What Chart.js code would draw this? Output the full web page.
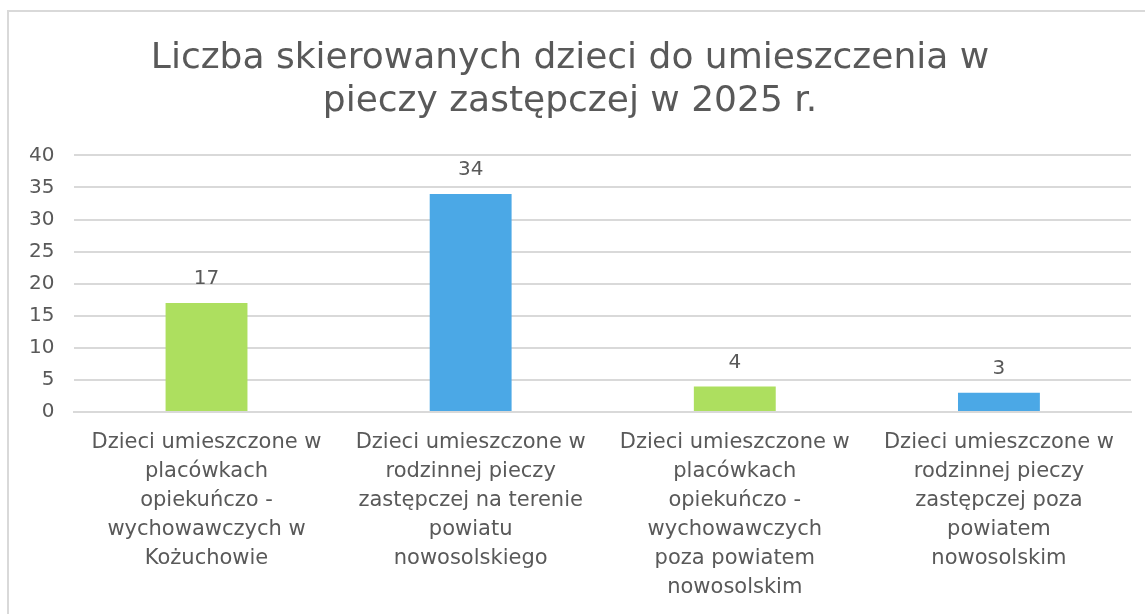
<!DOCTYPE html>
<html>
<head>
<meta charset="utf-8">
<script src="https://cdn.jsdelivr.net/npm/chart.js@4/dist/chart.umd.min.js"></script>
<style>
  html, body { margin: 0; padding: 0; background: #fff; overflow: hidden; }
  #box {
    position: absolute; left: 7px; top: 10px;
    width: 1150px; height: 620px;
    border: 2px solid #d9d9d9;
    box-sizing: border-box;
  }
  #wrap { position: absolute; left: 0; top: 0; width: 1136px; height: 618px; }
</style>
</head>
<body>
<div id="box"><div id="wrap"><canvas id="chart"></canvas></div></div>
<script>
// dane wykresu
const categories = [
    ['Dzieci umieszczone w', 'placówkach', 'opiekuńczo -', 'wychowawczych w', 'Kożuchowie'],
    ['Dzieci umieszczone w', 'rodzinnej pieczy', 'zastępczej na terenie', 'powiatu', 'nowosolskiego'],
    ['Dzieci umieszczone w', 'placówkach', 'opiekuńczo -', 'wychowawczych', 'poza powiatem', 'nowosolskim'],
    ['Dzieci umieszczone w', 'rodzinnej pieczy', 'zastępczej poza', 'powiatem', 'nowosolskim']
];
const values = [17, 34, 4, 3];
const barColors = ['#addf5f', '#4ba8e6', '#addf5f', '#4ba8e6'];
const titleLines = ['Liczba skierowanych dzieci do umieszczenia w', 'pieczy zastępczej w 2025 r.'];

const FONT = "'DejaVu Sans', sans-serif";
const TEXT = '#595959';

// etykiety wartości nad słupkami
const valueLabels = {
    id: 'valueLabels',
    afterDatasetsDraw(chart) {
        const c = chart.ctx;
        const meta = chart.getDatasetMeta(0);
        c.save();
        c.font = '20px ' + FONT;
        c.fillStyle = TEXT;
        c.textAlign = 'center';
        c.textBaseline = 'bottom';
        meta.data.forEach((bar, i) => {
            c.fillText(String(values[i]), bar.x, bar.y - 14);
        });
        c.restore();
    }
};

new Chart(document.getElementById('chart'), {
    type: 'bar',
    data: {
        labels: categories,
        datasets: [{
            data: values,
            backgroundColor: barColors,
            barPercentage: 0.31,
            categoryPercentage: 1.0
        }]
    },
    options: {
        responsive: true,
        maintainAspectRatio: false,
        animation: false,
        layout: { padding: { left: 0, right: 14, top: 0, bottom: 12 } },
        plugins: {
            legend: { display: false },
            tooltip: { enabled: false },
            title: {
                display: true,
                text: titleLines,
                color: TEXT,
                font: { family: FONT, size: 36, weight: 'normal', lineHeight: 1.2 },
                padding: { top: 25, bottom: 32 }
            }
        },
        scales: {
            x: {
                grid: { display: false, drawTicks: false },
                border: { display: true, color: '#d9d9d9', width: 2 },
                ticks: {
                    color: TEXT,
                    font: { family: FONT, size: 21, lineHeight: 1.38 },
                    padding: 16,
                    maxRotation: 0,
                    autoSkip: false
                }
            },
            y: {
                min: 0,
                max: 40,
                ticks: {
                    stepSize: 5,
                    color: TEXT,
                    font: { family: FONT, size: 20 },
                    padding: 20
                },
                grid: { color: '#d9d9d9', lineWidth: 2, drawTicks: false },
                border: { display: false }
            }
        }
    },
    plugins: [valueLabels]
});
</script>
</body>
</html>
